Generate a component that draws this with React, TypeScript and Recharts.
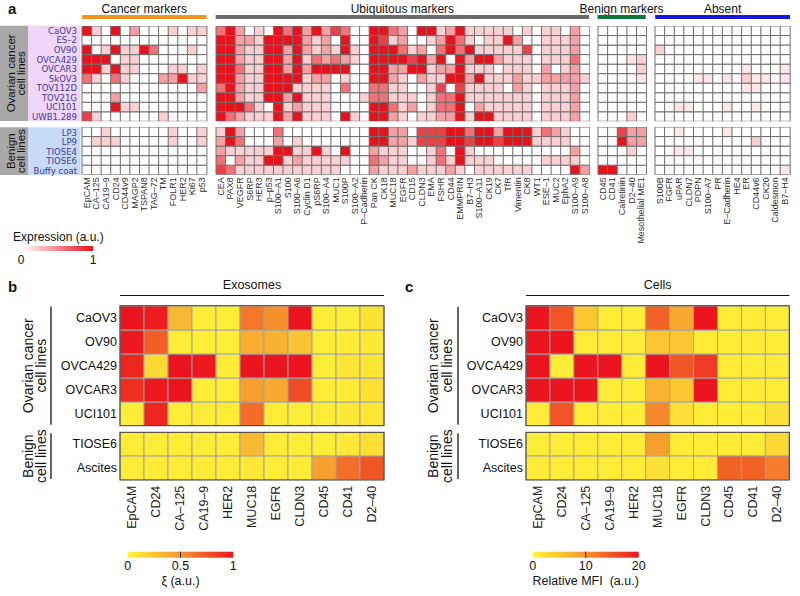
import React from "react";
import { BarChart, Bar, Cell, XAxis, YAxis } from "recharts";

const FONT = "'Liberation Sans', Arial, Helvetica, sans-serif";
const NARROW = "'Liberation Sans Narrow', 'Arial Narrow', 'DejaVu Sans Condensed', 'Liberation Sans', sans-serif";

// ---------- panel a: marker screen ----------
const cancerCellLines = ["CaOV3", "ES–2", "OV90", "OVCA429", "OVCAR3", "SkOV3", "TOV112D", "TOV21G", "UCI101", "UWB1.289"];
const benignCellLines = ["LP3", "LP9", "TIOSE4", "TIOSE6", "Buffy coat"];

const cancerMarkers = ["EpCAM", "CA–125", "CA19–9", "CD24", "CD44v9", "MAGP2", "TSPAN8", "TAG–72", "TM", "FOLR1", "HER2", "Ki67", "p53"];
const ubiquitousMarkers = [
  "CEA", "PAX8", "VEGFR", "S6RP", "HER3", "p–p53", "S100–A1", "S100", "S100–A6", "Cyclin D1", "pS6RP", "S100–A4", "MUC1",
  "S100P", "S100–A2", "P–Cadherin", "Pan CK", "CK18", "MUC18", "EGFR", "CD15", "CLDN3", "EMA", "FSHR", "CD44", "EMMPRIN",
  "B7–H3", "S100–A11", "CK19", "CK7", "TfR", "Vimentin", "CK8", "WT1", "ESE–1", "MUC2", "EphA2", "S100–A9", "S100–A8",
];
const benignMarkers = ["CD45", "CD41", "Calretinin", "D2–40", "Mesothelial ME1"];
const absentMarkers = ["S100B", "FGFR", "uPAR", "CLDN7", "PDPN", "S100–A7", "PR", "E–Cadherin", "HE4", "ER", "CD44v6", "CK20", "Caldesmon", "B7–H4"];

// expression level on a 0-5 scale, one row per cell line (10 cancer lines, then 5 benign)
const cancerMarkerLevels = [
  [5, 1, 0, 5, 0, 2, 0, 0, 0, 1, 0, 1, 1],
  [0, 0, 0, 0, 0, 0, 0, 0, 0, 0, 0, 0, 0],
  [5, 0, 1, 5, 1, 1, 5, 3, 0, 0, 0, 1, 0],
  [5, 5, 5, 0, 1, 1, 0, 0, 0, 0, 0, 0, 0],
  [5, 5, 1, 5, 1, 1, 0, 0, 0, 1, 1, 0, 1],
  [3, 1, 0, 3, 1, 0, 0, 0, 2, 2, 5, 1, 1],
  [0, 0, 0, 0, 0, 0, 0, 0, 0, 0, 0, 0, 2],
  [0, 0, 0, 2, 0, 0, 0, 0, 0, 0, 0, 0, 0],
  [0, 0, 0, 5, 1, 1, 0, 0, 0, 0, 0, 0, 0],
  [4, 1, 0, 0, 0, 0, 0, 0, 1, 0, 0, 0, 0],
  [0, 0, 1, 0, 0, 0, 0, 0, 0, 1, 0, 0, 1],
  [0, 1, 1, 1, 0, 0, 0, 0, 0, 1, 0, 0, 1],
  [0, 0, 0, 0, 0, 0, 0, 0, 0, 0, 0, 0, 0],
  [0, 0, 0, 0, 0, 0, 0, 0, 0, 0, 0, 0, 0],
  [0, 0, 0, 0, 0, 0, 0, 0, 0, 0, 0, 0, 0],
];
const ubiquitousLevels = [
  [3, 5, 2, 0, 1, 0, 5, 3, 5, 2, 5, 2, 4, 3, 0, 0, 5, 5, 3, 2, 0, 5, 5, 1, 2, 5, 1, 1, 1, 1, 1, 0, 1, 0, 1, 1, 0, 2, 0],
  [5, 5, 2, 2, 1, 5, 5, 5, 5, 2, 1, 2, 0, 5, 0, 0, 5, 4, 1, 2, 0, 0, 1, 2, 5, 3, 1, 0, 1, 1, 5, 2, 0, 0, 1, 1, 1, 2, 0],
  [5, 5, 2, 1, 1, 5, 5, 2, 5, 2, 1, 2, 1, 5, 1, 0, 5, 5, 5, 3, 1, 2, 0, 3, 5, 3, 5, 1, 1, 1, 1, 1, 4, 0, 1, 1, 1, 2, 0],
  [5, 5, 2, 1, 1, 5, 5, 2, 5, 1, 3, 2, 3, 2, 1, 0, 5, 5, 5, 5, 4, 5, 2, 5, 0, 5, 2, 5, 5, 2, 1, 1, 1, 0, 1, 1, 1, 3, 0],
  [5, 5, 3, 1, 1, 5, 5, 2, 5, 2, 5, 5, 5, 5, 0, 0, 5, 5, 2, 2, 5, 5, 1, 2, 2, 5, 1, 1, 1, 0, 1, 1, 1, 0, 2, 0, 1, 2, 0],
  [5, 5, 2, 1, 1, 5, 5, 5, 5, 1, 2, 2, 0, 1, 0, 0, 5, 5, 2, 1, 0, 2, 1, 1, 5, 5, 2, 5, 1, 1, 1, 2, 1, 1, 2, 2, 2, 2, 1],
  [3, 5, 2, 1, 1, 5, 5, 5, 1, 1, 1, 1, 0, 3, 0, 0, 3, 3, 1, 1, 0, 0, 1, 4, 0, 4, 1, 1, 1, 1, 0, 2, 1, 0, 1, 1, 1, 2, 0],
  [5, 5, 2, 1, 1, 5, 5, 2, 5, 1, 1, 1, 0, 0, 0, 1, 3, 3, 1, 1, 1, 0, 1, 3, 3, 5, 1, 1, 1, 1, 1, 1, 1, 0, 1, 1, 1, 2, 0],
  [5, 5, 5, 3, 1, 0, 5, 1, 2, 1, 1, 1, 0, 0, 0, 0, 5, 5, 3, 1, 2, 0, 1, 3, 3, 5, 0, 2, 1, 1, 1, 1, 1, 0, 1, 1, 1, 2, 0],
  [5, 3, 2, 1, 1, 1, 5, 2, 5, 1, 1, 1, 0, 5, 1, 0, 5, 5, 2, 1, 0, 1, 1, 2, 2, 5, 1, 5, 5, 1, 1, 1, 1, 0, 1, 1, 1, 2, 0],
  [1, 5, 2, 0, 0, 0, 3, 0, 0, 0, 0, 0, 0, 0, 0, 0, 5, 5, 2, 2, 0, 4, 4, 4, 5, 5, 3, 5, 5, 2, 5, 5, 5, 1, 3, 2, 1, 0, 0],
  [2, 5, 3, 0, 0, 0, 2, 0, 1, 0, 0, 0, 0, 0, 0, 0, 5, 5, 2, 2, 1, 4, 4, 4, 5, 5, 4, 5, 5, 4, 5, 5, 5, 1, 1, 1, 1, 0, 0],
  [2, 1, 1, 1, 1, 1, 5, 5, 1, 1, 5, 1, 0, 5, 0, 0, 2, 1, 1, 1, 0, 0, 1, 3, 0, 5, 1, 0, 0, 0, 0, 0, 0, 0, 0, 0, 0, 2, 0],
  [3, 0, 2, 1, 1, 5, 5, 1, 2, 1, 1, 1, 1, 1, 0, 0, 3, 2, 1, 1, 0, 0, 1, 3, 1, 5, 1, 1, 1, 0, 0, 0, 0, 0, 1, 1, 1, 1, 0],
  [4, 3, 1, 1, 1, 1, 1, 1, 1, 1, 1, 1, 1, 0, 0, 0, 2, 1, 1, 1, 2, 1, 1, 1, 2, 1, 0, 1, 1, 1, 1, 1, 1, 0, 0, 0, 0, 5, 2],
];
const benignMarkerLevels = [
  [0, 0, 0, 0, 0],
  [0, 0, 0, 0, 0],
  [0, 0, 0, 0, 0],
  [0, 0, 0, 0.5, 1],
  [0, 0, 0, 0, 1],
  [0, 0, 0, 0, 0.5],
  [0, 0, 0, 0, 0],
  [0, 0, 0, 0, 0],
  [0, 0, 0, 0, 0],
  [0, 0, 0, 1, 0],
  [0, 0, 4, 2, 2],
  [0, 0, 5, 2, 2],
  [0, 0, 0, 1, 0],
  [0, 0, 0, 0, 0],
  [5, 5, 0, 0, 0],
];
const absentLevels = [
  [0, 0, 0, 0, 0, 0, 0, 0, 0, 0, 0, 0, 0, 0],
  [0, 0, 0, 0, 0, 0, 0, 0, 0, 0, 0, 0, 0, 0],
  [1, 0, 0, 0, 0, 0, 0, 0, 0, 0, 0, 0, 0, 0],
  [0, 0, 0, 0, 0, 0, 0, 0, 0, 0, 0, 0, 0, 0],
  [0, 0, 0, 0, 0, 0, 0, 0, 0, 0.5, 0, 0, 0, 0.5],
  [0, 0, 0, 0, 0.5, 0.5, 0, 0.5, 0, 1, 0.5, 0.5, 0, 0.5],
  [0, 0, 0, 0, 0, 0, 0, 0, 0, 0.5, 0.5, 0, 0, 0],
  [0, 0, 0, 0, 0, 0, 0, 0, 0, 0, 0, 0, 0, 0],
  [0, 0, 0.5, 0.5, 0, 0, 0, 0.5, 0, 0, 0.5, 0, 0, 0],
  [0, 0, 0, 0, 0, 0, 0, 0, 0, 0, 0, 0, 0, 0],
  [0, 0, 0.5, 0, 0, 0, 0, 0.5, 0, 0, 0, 0, 0, 0],
  [0, 0, 0, 0, 0, 0, 0, 0, 0, 0, 1, 0, 0, 0],
  [0, 0, 0.5, 0.5, 0, 0, 0, 0, 0, 0, 0, 0, 0, 0],
  [0, 0, 0, 0, 0, 0, 0, 0, 0, 0, 0, 0, 0, 0],
  [0, 0, 0, 0, 0, 0, 0, 0, 0, 0, 0, 0, 0, 0.5],
];

// ---------- panels b and c ----------
const profileMarkers = ["EpCAM", "CD24", "CA–125", "CA19–9", "HER2", "MUC18", "EGFR", "CLDN3", "CD45", "CD41", "D2–40"];
const profileCancerLines = ["CaOV3", "OV90", "OVCA429", "OVCAR3", "UCI101"];
const profileBenignLines = ["TIOSE6", "Ascites"];

// ξ (a.u.), 0-1
const exosomeXi = [
  [1.0, 0.97, 0.32, 0.04, 0.03, 0.62, 0.52, 1.0, 0.04, 0.04, 0.1],
  [0.98, 0.72, 0.04, 0.03, 0.03, 0.38, 0.36, 0.26, 0.03, 0.05, 0.07],
  [0.93, 0.15, 1.0, 0.98, 0.04, 1.0, 1.0, 1.0, 0.04, 0.08, 0.08],
  [0.9, 0.98, 1.0, 0.04, 0.03, 0.46, 0.4, 0.78, 0.04, 0.05, 0.1],
  [0.05, 0.93, 0.05, 0.05, 0.05, 0.66, 0.05, 0.04, 0.04, 0.06, 0.08],
  [0.05, 0.05, 0.05, 0.05, 0.05, 0.32, 0.05, 0.05, 0.04, 0.06, 0.12],
  [0.05, 0.05, 0.05, 0.05, 0.05, 0.06, 0.05, 0.05, 0.45, 0.65, 0.75],
];
// relative MFI (a.u.), 0-20
const cellMfi = [
  [20, 15, 5, 1, 1, 14, 8, 20, 1, 1, 1],
  [20, 20, 1, 1, 1, 5, 5, 1, 1, 1, 1],
  [20, 1, 20, 20, 1, 20, 15, 17, 1, 1, 1],
  [20, 20, 20, 1, 1, 7, 5, 20, 1, 1, 1],
  [1, 15, 1, 1, 1, 11, 2, 1, 1, 1, 2],
  [1, 1, 1, 1, 1, 9, 1, 1, 1, 1, 3],
  [1, 1, 1, 1, 1, 2, 1, 1, 14, 14, 12],
];

// ---------- colours ----------
const WHITE_RED = [[255, 255, 255], [232, 18, 28]];
const HOT = [[255, 245, 55], [246, 150, 45], [236, 20, 30]];

function mix(a: number[], b: number[], t: number) {
  const c = a.map((v, i) => Math.round(v + (b[i] - v) * t));
  return `rgb(${c[0]},${c[1]},${c[2]})`;
}
const whiteRed = (v: number) => mix(WHITE_RED[0], WHITE_RED[1], Math.max(0, Math.min(1, v)));
const hot = (v: number) => {
  const t = Math.max(0, Math.min(1, v));
  return t < 0.5 ? mix(HOT[0], HOT[1], t * 2) : mix(HOT[1], HOT[2], (t - 0.5) * 2);
};

type Labels = { height: number; margin: number; fontSize: number; color: string };

function makeTick(l: Labels) {
  return (props: any) => {
    const { x, y, payload } = props;
    return (
      <text
        x={x}
        y={y}
        transform={`rotate(-90 ${x} ${y})`}
        textAnchor="end"
        dominantBaseline="central"
        fontSize={l.fontSize}
        fill={l.color}
        fontFamily={FONT}
      >
        {payload.value}
      </text>
    );
  };
}

// one heatmap block: each column is a category, each row one unit of a stacked bar
function HeatBlock({
  columns, values, colorOf, x, y, w, h, stroke, labels,
}: {
  columns: string[]; values: number[][]; colorOf: (v: number) => string;
  x: number; y: number; w: number; h: number; stroke: string; labels?: Labels;
}) {
  const bottomUp = [...values].reverse();
  const data = columns.map((name) => {
    const d: Record<string, string | number> = { name };
    bottomUp.forEach((_, i) => { d[`row${i}`] = 1; });
    return d;
  });
  const labelH = labels ? labels.height : 0;
  return (
    <div style={{ position: "absolute", left: x - 1, top: y - 1 }}>
      <BarChart
        width={w + 2}
        height={h + 2 + labelH}
        data={data}
        margin={{ top: 1, right: 1, bottom: 1, left: 1 }}
        barCategoryGap={0}
        barGap={0}
      >
        <XAxis
          dataKey="name"
          hide={!labels}
          height={labelH}
          interval={0}
          axisLine={false}
          tickLine={false}
          tickSize={0}
          tickMargin={labels ? labels.margin : 0}
          tick={labels ? makeTick(labels) : false}
        />
        <YAxis hide type="number" domain={[0, values.length]} allowDataOverflow />
        {bottomUp.map((row, i) => (
          <Bar key={i} dataKey={`row${i}`} stackId="cells" isAnimationActive={false} stroke={stroke} strokeWidth={1}>
            {row.map((v, j) => (
              <Cell key={j} fill={colorOf(v)} stroke={stroke} strokeWidth={1} />
            ))}
          </Bar>
        ))}
      </BarChart>
    </div>
  );
}

const A_TOP = { y: 25.7, h: 95.3 };
const A_BOT = { y: 127.3, h: 47.7 };
const A_GRID = "#6f6f6f";
const A_LABELS: Labels = { height: 76, margin: 2.5, fontSize: 9, color: "#333" };

const aGroups = [
  { title: "Cancer markers", color: "#F7941D", x: 82, w: 124.5, columns: cancerMarkers, levels: cancerMarkerLevels },
  { title: "Ubiquitous markers", color: "#6B6B6B", x: 215.7, w: 373.4, columns: ubiquitousMarkers, levels: ubiquitousLevels },
  { title: "Benign markers", color: "#0B7A3C", x: 597.5, w: 48.2, columns: benignMarkers, levels: benignMarkerLevels },
  { title: "Absent", color: "#1818E0", x: 655.2, w: 134.8, columns: absentMarkers, levels: absentLevels },
];

const B_TOP = { y: 305.7, h: 120 };
const B_BOT = { y: 432.3, h: 47.7 };
const B_GRID = "#a3a3a3";
const B_LABELS: Labels = { height: 52, margin: 6, fontSize: 12.5, color: "#222" };

const profilePanels = [
  { letter: "b", lx: 8, title: "Exosomes", x: 120, w: 264, values: exosomeXi.map((r) => r), scale: 1,
    rot: [27.5, 41], bar: 50, legend: { x: 127.7, w: 105.6, ticks: ["0", "0.5", "1"], title: "ξ (a.u.)" } },
  { letter: "c", lx: 405, title: "Cells", x: 526, w: 263.3, values: cellMfi.map((r) => r), scale: 20,
    rot: [433, 447], bar: 457, legend: { x: 532.7, w: 106, ticks: ["0", "10", "20"], title: "Relative MFI  (a.u.)" } },
];

export default function App() {
  return (
    <div style={{ position: "absolute", left: 0, top: 0, width: 800, height: 596, background: "#fff", overflow: "hidden", fontFamily: FONT }}>
      {aGroups.map((g) => (
        <React.Fragment key={g.title}>
          <HeatBlock
            columns={g.columns}
            values={g.levels.slice(0, 10).map((r) => r.map((l) => l / 5))}
            colorOf={whiteRed}
            x={g.x} y={A_TOP.y} w={g.w} h={A_TOP.h}
            stroke={A_GRID}
          />
          <HeatBlock
            columns={g.columns}
            values={g.levels.slice(10).map((r) => r.map((l) => l / 5))}
            colorOf={whiteRed}
            x={g.x} y={A_BOT.y} w={g.w} h={A_BOT.h}
            stroke={A_GRID}
            labels={A_LABELS}
          />
        </React.Fragment>
      ))}

      {profilePanels.map((p) => (
        <React.Fragment key={p.letter}>
          <HeatBlock
            columns={profileMarkers}
            values={p.values.slice(0, 5).map((r) => r.map((v) => v / p.scale))}
            colorOf={hot}
            x={p.x} y={B_TOP.y} w={p.w} h={B_TOP.h}
            stroke={B_GRID}
          />
          <HeatBlock
            columns={profileMarkers}
            values={p.values.slice(5).map((r) => r.map((v) => v / p.scale))}
            colorOf={hot}
            x={p.x} y={B_BOT.y} w={p.w} h={B_BOT.h}
            stroke={B_GRID}
            labels={B_LABELS}
          />
        </React.Fragment>
      ))}

      <svg width={800} height={596} style={{ position: "absolute", left: 0, top: 0, pointerEvents: "none" }} fontFamily={FONT}>
        <defs>
          <linearGradient id="exprGrad" x1="0" x2="1" y1="0" y2="0">
            <stop offset="0" stopColor="#ffffff" />
            <stop offset="1" stopColor="#E8121C" />
          </linearGradient>
          <linearGradient id="hotGrad" x1="0" x2="1" y1="0" y2="0">
            <stop offset="0" stopColor="rgb(255,245,55)" />
            <stop offset="0.5" stopColor="rgb(246,150,45)" />
            <stop offset="1" stopColor="rgb(236,20,30)" />
          </linearGradient>
        </defs>

        {/* panel a */}
        <text x={8} y={13.5} fontSize={15} fontWeight="bold" fill="#111">a</text>
        {aGroups.map((g) => (
          <g key={g.title}>
            <text x={g.x + g.w / 2} y={8.5} fontSize={12} textAnchor="middle" dominantBaseline="central" fill="#111">{g.title}</text>
            <rect x={g.x} y={15} width={g.w} height={4} fill={g.color} />
          </g>
        ))}
        <rect x={0} y={A_TOP.y} width={28} height={A_TOP.h} fill="#A8A8A8" />
        <rect x={28} y={A_TOP.y} width={52.5} height={A_TOP.h} fill="#EFD6F6" />
        <rect x={0} y={A_BOT.y} width={28} height={A_BOT.h} fill="#A8A8A8" />
        <rect x={28} y={A_BOT.y} width={52.5} height={A_BOT.h} fill="#C7DBF6" />
        <g transform={`translate(10.5 ${A_TOP.y + A_TOP.h / 2}) rotate(-90)`}>
          <text textAnchor="middle" dominantBaseline="central" fontSize={11.5} fill="#111">Ovarian cancer</text>
        </g>
        <g transform={`translate(21 ${A_TOP.y + A_TOP.h / 2}) rotate(-90)`}>
          <text textAnchor="middle" dominantBaseline="central" fontSize={11.5} fill="#111">cell lines</text>
        </g>
        <g transform={`translate(10.5 ${A_BOT.y + A_BOT.h / 2}) rotate(-90)`}>
          <text textAnchor="middle" dominantBaseline="central" fontSize={11.5} fill="#111">Benign</text>
        </g>
        <g transform={`translate(21 ${A_BOT.y + A_BOT.h / 2}) rotate(-90)`}>
          <text textAnchor="middle" dominantBaseline="central" fontSize={11.5} fill="#111">cell lines</text>
        </g>
        {cancerCellLines.map((name, i) => (
          <text key={name} x={77} y={A_TOP.y + (A_TOP.h / 10) * (i + 0.5)} fontSize={9.5} fontFamily={NARROW}
            textAnchor="end" dominantBaseline="central" fill="#3f3a98">{name}</text>
        ))}
        {benignCellLines.map((name, i) => (
          <text key={name} x={77} y={A_BOT.y + (A_BOT.h / 5) * (i + 0.5)} fontSize={9.5} fontFamily={NARROW}
            textAnchor="end" dominantBaseline="central" fill="#3f3a98">{name}</text>
        ))}
        <text x={13} y={236.5} fontSize={12} dominantBaseline="central" fill="#111">Expression (a.u.)</text>
        <rect x={22} y={246} width={71} height={5} fill="url(#exprGrad)" />
        <text x={21} y={259.5} fontSize={12} textAnchor="middle" dominantBaseline="central" fill="#111">0</text>
        <text x={93} y={259.5} fontSize={12} textAnchor="middle" dominantBaseline="central" fill="#111">1</text>

        {/* panels b and c */}
        {profilePanels.map((p) => (
          <g key={p.letter}>
            <text x={p.lx} y={292} fontSize={15} fontWeight="bold" fill="#111">{p.letter}</text>
            <text x={p.x + p.w / 2} y={285} fontSize={12.5} textAnchor="middle" dominantBaseline="central" fill="#111">{p.title}</text>
            <line x1={p.x} x2={p.x + p.w} y1={295.5} y2={295.5} stroke="#111" strokeWidth={1} />
            <rect x={p.x} y={B_TOP.y} width={p.w} height={B_TOP.h} fill="none" stroke="#3c3c3c" strokeWidth={1} />
            <rect x={p.x} y={B_BOT.y} width={p.w} height={B_BOT.h} fill="none" stroke="#3c3c3c" strokeWidth={1} />
            <rect x={p.bar} y={B_TOP.y + 1} width={2} height={B_TOP.h - 2} fill="#666" />
            <rect x={p.bar} y={B_BOT.y + 1} width={2} height={B_BOT.h - 2} fill="#666" />
            <g transform={`translate(${p.rot[0]} ${B_TOP.y + B_TOP.h / 2}) rotate(-90)`}>
              <text textAnchor="middle" dominantBaseline="central" fontSize={14} fill="#111">Ovarian cancer</text>
            </g>
            <g transform={`translate(${p.rot[1]} ${B_TOP.y + B_TOP.h / 2}) rotate(-90)`}>
              <text textAnchor="middle" dominantBaseline="central" fontSize={14} fill="#111">cell lines</text>
            </g>
            <g transform={`translate(${p.rot[0]} ${B_BOT.y + B_BOT.h / 2}) rotate(-90)`}>
              <text textAnchor="middle" dominantBaseline="central" fontSize={14} fill="#111">Benign</text>
            </g>
            <g transform={`translate(${p.rot[1]} ${B_BOT.y + B_BOT.h / 2}) rotate(-90)`}>
              <text textAnchor="middle" dominantBaseline="central" fontSize={14} fill="#111">cell lines</text>
            </g>
            {profileCancerLines.map((name, i) => (
              <text key={name} x={p.x - 3} y={B_TOP.y + (B_TOP.h / 5) * (i + 0.5)} fontSize={12.5}
                textAnchor="end" dominantBaseline="central" fill="#111">{name}</text>
            ))}
            {profileBenignLines.map((name, i) => (
              <text key={name} x={p.x - 3} y={B_BOT.y + (B_BOT.h / 2) * (i + 0.5)} fontSize={12.5}
                textAnchor="end" dominantBaseline="central" fill="#111">{name}</text>
            ))}
            <rect x={p.legend.x} y={551.7} width={p.legend.w} height={6} fill="url(#hotGrad)" />
            <line x1={p.legend.x + p.legend.w / 2} x2={p.legend.x + p.legend.w / 2} y1={551.7} y2={557.7} stroke="#222" strokeWidth={1} />
            {p.legend.ticks.map((t, i) => (
              <text key={t} x={p.legend.x + (p.legend.w / 2) * i} y={566} fontSize={12.5} textAnchor="middle"
                dominantBaseline="central" fill="#111">{t}</text>
            ))}
            <text x={p.legend.x + p.legend.w / 2} y={581} fontSize={12.5} textAnchor="middle" dominantBaseline="central"
              fill="#111" style={{ whiteSpace: "pre" }}>{p.legend.title}</text>
          </g>
        ))}
      </svg>
    </div>
  );
}
